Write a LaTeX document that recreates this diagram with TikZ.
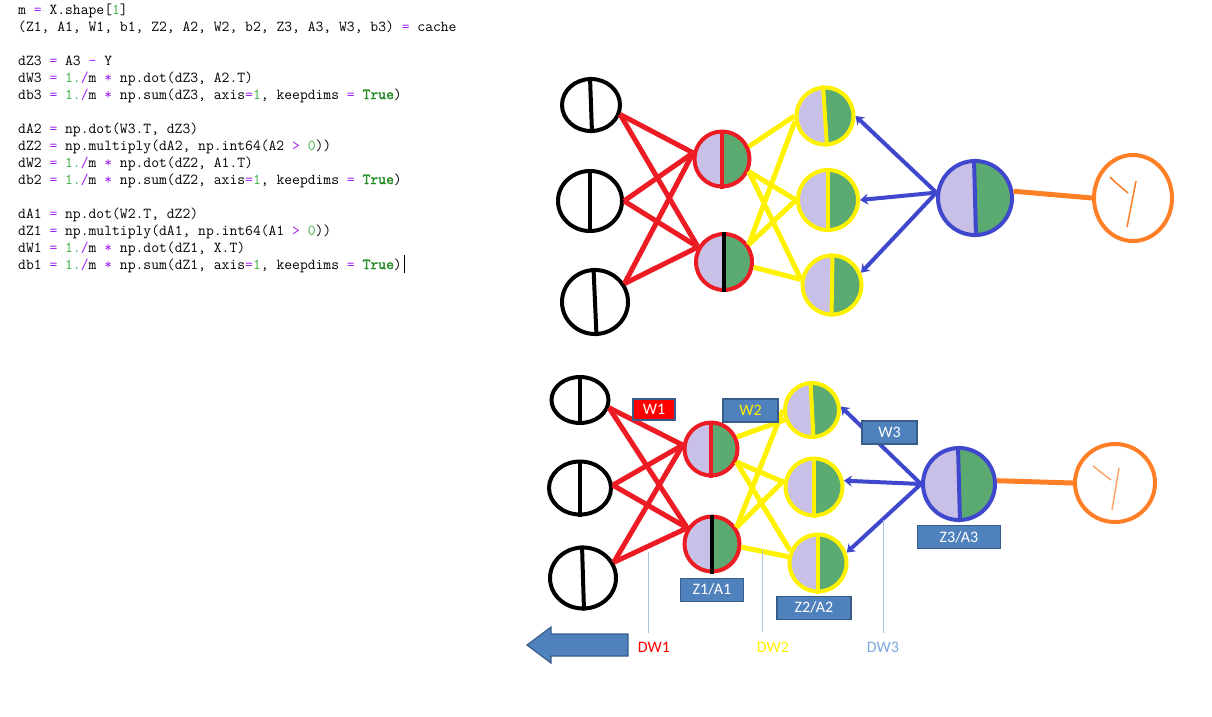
\documentclass[tikz,border=0pt]{standalone}
\usepackage{fontspec}
\usepackage{xcolor}
\usepackage{tikz}
\usetikzlibrary{shapes.geometric, arrows, arrows.meta, positioning, calc}
\newfontfamily\lblfont{Carlito}
\newfontfamily\kwfont[FakeBold=2]{Latin Modern Mono}
\definecolor{nred}{HTML}{ED1C24}
\definecolor{nyellow}{HTML}{FFF200}
\definecolor{nblue}{HTML}{3F48CC}
\definecolor{norange}{HTML}{FF7F27}
\definecolor{nlav}{HTML}{C8C0E6}
\definecolor{ngreen}{HTML}{5BAA72}
\definecolor{boxblue}{HTML}{4F81BD}
\definecolor{boxedge}{HTML}{385D8A}
\definecolor{tickblue}{HTML}{A9C0DE}
\definecolor{dwblue}{HTML}{7BA7DE}
\definecolor{cpurple}{HTML}{A020F0}
\definecolor{cnum}{HTML}{3CB043}
\definecolor{ckw}{HTML}{228B22}
\newcommand{\cop}[1]{\textcolor{cpurple}{#1}}
\newcommand{\cnum}[1]{\textcolor{cnum}{#1}}
\newcommand{\ckw}[1]{\textcolor{ckw}{\kwfont #1}}
\newcommand{\splitline}[3]{\draw[line width=4pt, draw=#2] ([xshift={(-1)*(#3)*1pt}]#1.north) -- ([xshift={(#3)*1pt}]#1.south);}
\tikzstyle{codeline} = [anchor=base west, inner sep=0pt, font={\ttfamily\fontsize{15.2}{17}\selectfont}]
\tikzstyle{inp} = [ellipse, draw=black, line width=4pt, inner sep=0pt]
\tikzstyle{neuron} = [circle, line width=4pt, inner sep=0pt, path picture={
  \fill[nlav] (path picture bounding box.south west) rectangle (path picture bounding box.north);
  \fill[ngreen] (path picture bounding box.south) rectangle (path picture bounding box.north east);}]
\tikzstyle{target} = [ellipse, draw=norange, line width=4pt, inner sep=0pt]
\tikzstyle{redline} = [line width=5pt, draw=nred]
\tikzstyle{yellowline} = [line width=5pt, draw=nyellow]
\tikzstyle{orangeline} = [line width=5pt, draw=norange]
\tikzstyle{bluearrow} = [line width=4pt, draw=nblue, -{Stealth[length=8pt,width=11pt]}]
\tikzstyle{lbl} = [rectangle, fill=boxblue, draw=boxedge, line width=1.2pt, text=white, inner sep=0pt, minimum height=23pt, font={\lblfont\fontsize{16}{18}\selectfont}]
\tikzstyle{dw} = [inner sep=0pt, font={\lblfont\fontsize{16}{18}\selectfont}]
\tikzstyle{tick} = [line width=1pt, draw=tickblue]

\begin{document}
\begin{tikzpicture}[x=1pt, y=-1pt]
\useasboundingbox[fill=white] (0,0) rectangle (1212,716);

% backprop code
\node (lm) [codeline] at (18,14) {m \cop{=} X.shape[\cnum{1}]};
\node (lcache) [codeline] at (18,31) {(Z1, A1, W1, b1, Z2, A2, W2, b2, Z3, A3, W3, b3) \cop{=} cache};
\node (ldz3) [codeline] at (18,65) {dZ3 \cop{=} A3 \cop{-} Y};
\node (ldw3) [codeline] at (18,82) {dW3 \cop{=} \cnum{1.}\cop{/}m \cop{*} np.dot(dZ3, A2.T)};
\node (ldb3) [codeline] at (18,99) {db3 \cop{=} \cnum{1.}\cop{/}m \cop{*} np.sum(dZ3, axis\cop{=}\cnum{1}, keepdims \cop{=} \ckw{True})};
\node (lda2) [codeline] at (18,133) {dA2 \cop{=} np.dot(W3.T, dZ3)};
\node (ldz2) [codeline] at (18,150) {dZ2 \cop{=} np.multiply(dA2, np.int64(A2 \cop{>} \cnum{0}))};
\node (ldw2) [codeline] at (18,167) {dW2 \cop{=} \cnum{1.}\cop{/}m \cop{*} np.dot(dZ2, A1.T)};
\node (ldb2) [codeline] at (18,184) {db2 \cop{=} \cnum{1.}\cop{/}m \cop{*} np.sum(dZ2, axis\cop{=}\cnum{1}, keepdims \cop{=} \ckw{True})};
\node (lda1) [codeline] at (18,218) {dA1 \cop{=} np.dot(W2.T, dZ2)};
\node (ldz1) [codeline] at (18,235) {dZ1 \cop{=} np.multiply(dA1, np.int64(A1 \cop{>} \cnum{0}))};
\node (ldw1) [codeline] at (18,252) {dW1 \cop{=} \cnum{1.}\cop{/}m \cop{*} np.dot(dZ1, X.T)};
\node (ldb1) [codeline] at (18,269) {db1 \cop{=} \cnum{1.}\cop{/}m \cop{*} np.sum(dZ1, axis\cop{=}\cnum{1}, keepdims \cop{=} \ckw{True})};
\draw[line width=0.8pt] ([xshift=2pt,yshift=-4pt]ldb1.base east) -- ([xshift=2pt,yshift=14pt]ldb1.base east);

% top network
\node (tin1) [inp, minimum width=58pt, minimum height=52pt] at (591,105) {};
\node (tin2) [inp, minimum width=64pt, minimum height=60pt] at (590,201) {};
\node (tin3) [inp, minimum width=66pt, minimum height=64pt] at (595,302) {};
\node (th1a) [neuron, draw=nred, minimum size=55pt] at (722,159) {};
\node (th1b) [neuron, draw=nred, minimum size=56pt] at (724,262) {};
\node (th2a) [neuron, draw=nyellow, minimum size=57pt] at (825,116) {};
\node (th2b) [neuron, draw=nyellow, minimum size=60pt] at (828,200) {};
\node (th2c) [neuron, draw=nyellow, minimum size=59pt] at (832,285) {};
\node (tout) [neuron, draw=nblue, minimum size=74pt] at (975,198) {};
\node (ty) [target, minimum width=78pt, minimum height=86pt] at (1133,198) {};
\splitline{tin1}{black}{1}
\splitline{tin2}{black}{0}
\splitline{tin3}{black}{1.5}
\splitline{th1a}{nred}{0}
\splitline{th1b}{black}{0}
\splitline{th2a}{nyellow}{2}
\splitline{th2b}{nyellow}{0}
\splitline{th2c}{nyellow}{-0.5}
\splitline{tout}{nblue}{1}

\foreach \s/\a in {tin1/-18, tin2/0, tin3/32} {
  \draw [redline] (\s.\a) -- (th1a.168);
  \draw [redline] (\s.\a) -- (th1b.150);
}
\draw [yellowline] (th1a.25) -- (th2a.west);
\draw [yellowline] (th1a.-25) -- (th2b.west);
\draw [yellowline] (th1a.-25) -- (th2c.170);
\draw [yellowline] (th1b.35) -- (th2a.190);
\draw [yellowline] (th1b.35) -- (th2b.west);
\draw [yellowline] (th1b.-10) -- (th2c.170);
\draw [bluearrow] (tout.172) -- (th2a.east);
\draw [bluearrow] (tout.172) -- (th2b.east);
\draw [bluearrow] (tout.172) -- (th2c.23);
\draw [orangeline] (tout.10) -- (ty.west);
\begin{scope}[shift={(ty.center)}]
\draw[norange, line width=1.5pt] (-23,-21) -- (-18,-16) -- (-5,-5);
\draw[norange, line width=1.5pt] (3,-17) -- (-6,29);
\end{scope}

% bottom network
\node (bin1) [inp, minimum width=57pt, minimum height=46pt] at (580,400) {};
\node (bin2) [inp, minimum width=62pt, minimum height=53pt] at (580,488) {};
\node (bin3) [inp, minimum width=66pt, minimum height=61pt] at (583,578) {};
\node (bh1a) [neuron, draw=nred, minimum size=53pt] at (711,449) {};
\node (bh1b) [neuron, draw=nred, minimum size=55pt] at (712,544) {};
\node (bh2a) [neuron, draw=nyellow, minimum size=54pt] at (812,410) {};
\node (bh2b) [neuron, draw=nyellow, minimum size=57pt] at (814,487) {};
\node (bh2c) [neuron, draw=nyellow, minimum size=57pt] at (818,563) {};
\node (bout) [neuron, draw=nblue, minimum size=72pt] at (959,484) {};
\node (by) [target, minimum width=80pt, minimum height=78pt] at (1115,483) {};
\splitline{bin1}{black}{0}
\splitline{bin2}{black}{0}
\splitline{bin3}{black}{1}
\splitline{bh1a}{nred}{0}
\splitline{bh1b}{black}{0}
\splitline{bh2a}{nyellow}{1.5}
\splitline{bh2b}{nyellow}{0}
\splitline{bh2c}{nyellow}{0}
\splitline{bout}{nblue}{1}

\foreach \s/\a in {bin1/-15, bin2/5, bin3/27} {
  \draw [redline] (\s.\a) -- (bh1a.172);
  \draw [redline] (\s.\a) -- (bh1b.147);
}
\draw [yellowline] (bh1a.25) -- (bh2a.200);
\draw [yellowline] (bh1a.-27) -- (bh2b.171);
\draw [yellowline] (bh1a.-27) -- (bh2c.156);
\draw [yellowline] (bh1b.34) -- (bh2a.west);
\draw [yellowline] (bh1b.34) -- (bh2b.167);
\draw [yellowline] (bh1b.-6) -- (bh2c.168);
\draw [bluearrow] (bout.west) -- (bh2a.7);
\draw [bluearrow] (bout.west) -- (bh2b.12);
\draw [bluearrow] (bout.west) -- (bh2c.20);
\draw [orangeline] (bout.5) -- (by.west);
\begin{scope}[shift={(by.center)}]
\draw[norange!70, line width=1.5pt] (-22,-17) -- (-4,-3);
\draw[norange!70, line width=1.5pt] (4,-15) -- (-3,27);
\end{scope}

% labels
\node (w1) [lbl, fill=red, minimum width=42pt, minimum height=21pt] at (654,409.5) {W1};
\node (w2) [lbl, text=yellow, minimum width=55pt] at (750.5,410.5) {W2};
\node (w3) [lbl, minimum width=55pt] at (889.5,432.5) {W3};
\node (za1) [lbl, minimum width=63pt, below=4pt of bh1b] {Z1/A1};
\node (za2) [lbl, minimum width=74pt, below=2pt of bh2c, xshift=-4pt] {Z2/A2};
\node (za3) [lbl, minimum width=83pt, below=3pt of bout] {Z3/A3};

% gradient markers
\node (dw1) [dw, text=red] at (654,647) {DW1};
\node (dw2) [dw, text=yellow] at (773,647) {DW2};
\node (dw3) [dw, text=dwblue] at (883,647) {DW3};
\coordinate (dw1top) at (648,552);
\coordinate (dw1bot) at (648,633);
\coordinate (dw2top) at (762,550);
\coordinate (dw2bot) at (762,632);
\coordinate (dw3top) at (883,520);
\coordinate (dw3bot) at (883,633);
\draw [tick] (dw1top) -- (dw1bot);
\draw [tick] (dw2top) -- (dw2bot);
\draw [tick] (dw3top) -- (dw3bot);

% backward direction
\draw[fill=boxblue, draw=boxedge, line width=1.2pt] (628,634) -- (551,634) -- (551,627) -- (527,645) -- (551,663) -- (551,656) -- (628,656) -- cycle;
\end{tikzpicture}
\end{document}
